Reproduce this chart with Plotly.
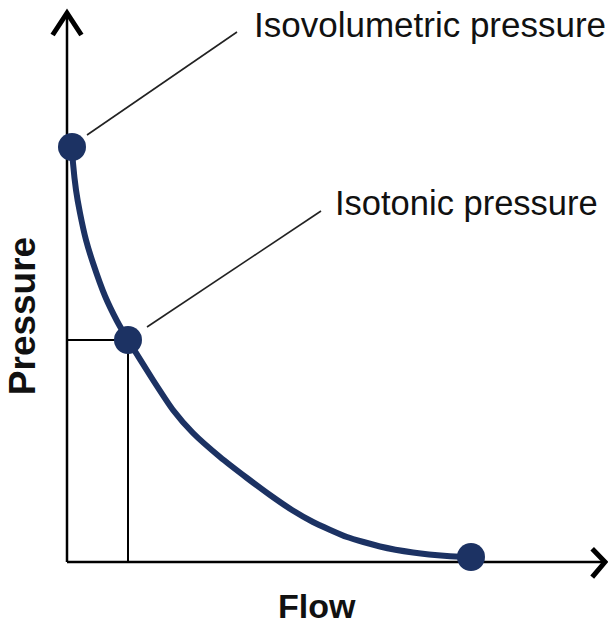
import plotly.graph_objects as go

# Curve (flow, pressure), arbitrary units
flow = [0.125, 0.15, 0.225, 0.325, 0.475, 0.65, 0.95, 1.25, 1.525, 2.15, 2.65, 3.15, 3.825, 4.5,
        5.075, 5.625, 6.15, 7.0, 7.825, 8.65, 9.5, 10.1]
pressure = [10.375, 9.975, 9.3, 8.725, 8.05, 7.475, 6.65, 6.025, 5.55, 4.55, 3.8, 3.225, 2.625, 2.1,
            1.675, 1.3, 1.0, 0.625, 0.3875, 0.2375, 0.15, 0.125]

# Highlighted points
point_flow = [0.125, 1.525, 10.1]
point_pressure = [10.375, 5.55, 0.125]
point_labels = ["Isovolumetric pressure", "Isotonic pressure", ""]

# Label anchor positions (flow, pressure) and leader lines
label_flow = [4.63, 6.65]
label_pressure = [13.45, 8.98]
label_sizes = [35, 34.5]
leader_start = [(0.5, 10.675), (2.0, 5.875)]
leader_end = [(4.25, 13.25), (6.35, 8.775)]

axis_flow_max = 13.45
axis_pressure_max = 13.725

NAVY = "#1c3263"

fig = go.Figure()

# Axes
fig.add_trace(go.Scatter(x=[0, axis_flow_max], y=[0, 0], mode="lines",
                         line=dict(color="black", width=2.5), hoverinfo="skip"))
fig.add_trace(go.Scatter(x=[0, 0], y=[0, axis_pressure_max], mode="lines",
                         line=dict(color="black", width=2.5), hoverinfo="skip"))
# Arrowheads
fig.add_trace(go.Scatter(x=[-0.36, 0, 0.36], y=[axis_pressure_max - 0.55, axis_pressure_max, axis_pressure_max - 0.55],
                         mode="lines", line=dict(color="black", width=5), hoverinfo="skip"))
fig.add_trace(go.Scatter(x=[axis_flow_max - 0.32, axis_flow_max, axis_flow_max - 0.32], y=[0.33, 0, -0.38],
                         mode="lines", line=dict(color="black", width=5), hoverinfo="skip"))

# Drop lines to isotonic point
fig.add_trace(go.Scatter(x=[0, point_flow[1], point_flow[1]], y=[point_pressure[1], point_pressure[1], 0],
                         mode="lines", line=dict(color="black", width=2), hoverinfo="skip"))

# Curve
fig.add_trace(go.Scatter(x=flow, y=pressure, mode="lines",
                         line=dict(color=NAVY, width=6, shape="spline", smoothing=0.5), hoverinfo="skip"))
# Points
fig.add_trace(go.Scatter(x=point_flow, y=point_pressure, mode="markers",
                         marker=dict(color=NAVY, size=28), hoverinfo="skip"))

# Leader lines
for (x0, y0), (x1, y1) in zip(leader_start, leader_end):
    fig.add_shape(type="line", x0=x0, y0=y0, x1=x1, y1=y1, xref="x", yref="y",
                  line=dict(color="#222222", width=1.6))

# Labels
for lx, ly, txt, sz in zip(label_flow, label_pressure, point_labels[:2], label_sizes):
    fig.add_annotation(x=lx, y=ly, text=txt, showarrow=False, xanchor="left", yanchor="middle",
                       font=dict(family="Liberation Sans, Arial", size=sz, color="#111111"))

# Axis titles
fig.add_annotation(x=6.25, y=-1.1, text="<b>Flow</b>", showarrow=False, xanchor="center", yanchor="middle",
                   font=dict(family="Liberation Sans, Arial", size=34, color="#111111"))
fig.add_annotation(x=-1.12, y=6.15, text="<b>Pressure</b>", showarrow=False, xanchor="center", yanchor="middle",
                   textangle=-90, font=dict(family="Liberation Sans, Arial", size=37, color="#111111"))

fig.update_layout(
    width=608, height=621, margin=dict(l=0, r=0, t=0, b=0),
    paper_bgcolor="white", plot_bgcolor="white", showlegend=False,
    xaxis=dict(range=[-1.675, 13.525], visible=False, fixedrange=True),
    yaxis=dict(range=[-1.475, 14.05], visible=False, fixedrange=True),
)

fig.write_html("out.html", config={"displayModeBar": False},
               post_script="document.body.style.margin='0';document.body.style.overflow='hidden';")
